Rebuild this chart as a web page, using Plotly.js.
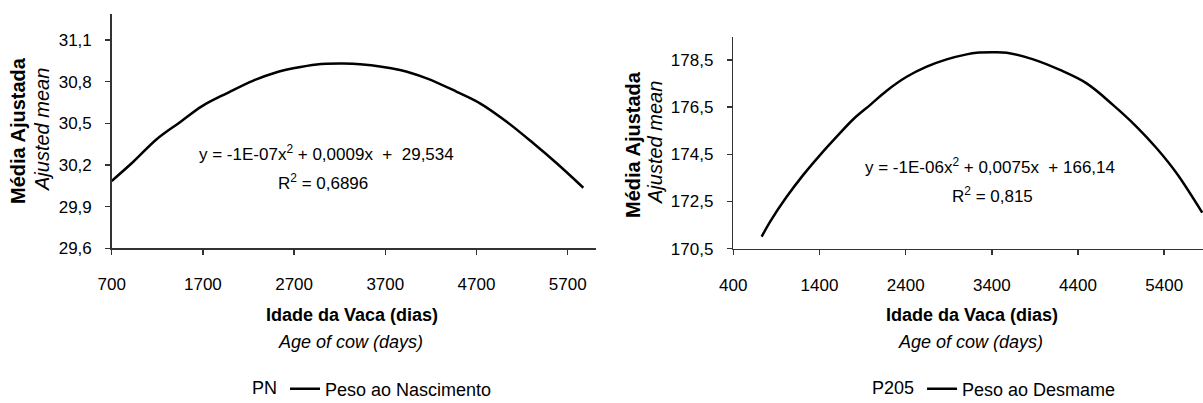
<!DOCTYPE html>
<html>
<head>
<meta charset="utf-8">
<script src="https://cdn.plot.ly/plotly-3.0.1.min.js"></script>
<style>
  html, body { margin: 0; padding: 0; background: #fff; }
  #chart { width: 1203px; height: 403px; }
</style>
</head>
<body>
<div id="chart"></div>
<script>
// ---- Data ----
// PN – Peso ao Nascimento (left panel)
const pnAge  = [700, 937, 1193, 1449, 1687, 1961, 2253, 2509, 2691, 2948, 3200, 3423, 3861, 4154, 4483, 4738, 5031, 5323, 5579, 5871];
const pnMean = [30.085, 30.223, 30.385, 30.508, 30.622, 30.716, 30.808, 30.868, 30.896, 30.924, 30.93, 30.926, 30.884, 30.824, 30.727, 30.644, 30.511, 30.356, 30.212, 30.036];

// P205 – Peso ao Desmame (right panel)
const p205Age  = [729, 826, 1019, 1212, 1406, 1600, 1792, 1986, 2180, 2412, 2644, 2876, 3108, 3224, 3400, 3572, 3880, 4190, 4500, 4808, 5080, 5312, 5544, 5841];
const p205Mean = [171.01, 171.64, 172.70, 173.63, 174.47, 175.25, 175.99, 176.59, 177.20, 177.79, 178.22, 178.53, 178.74, 178.81, 178.83, 178.81, 178.53, 178.08, 177.51, 176.59, 175.67, 174.76, 173.70, 172.03];

// Tick labels
const pnXTicks   = [700, 1700, 2700, 3700, 4700, 5700];
const pnYTicks   = [29.6, 29.9, 30.2, 30.5, 30.8, 31.1];
const pnYLabels  = ['29,6', '29,9', '30,2', '30,5', '30,8', '31,1'];
const p205XTicks  = [400, 1400, 2400, 3400, 4400, 5400];
const p205YTicks  = [170.5, 172.5, 174.5, 176.5, 178.5];
const p205YLabels = ['170,5', '172,5', '174,5', '176,5', '178,5'];

// Texts
const pnName   = 'Peso ao Nascimento';
const p205Name = 'Peso ao Desmame';
const pnEq     = 'y = -1E-07x<sup>2</sup> + 0,0009x  +  29,534';
const pnR2     = 'R<sup>2</sup> = 0,6896';
const p205Eq   = 'y = -1E-06x<sup>2</sup> + 0,0075x  + 166,14';
const p205R2   = 'R<sup>2</sup> = 0,815';

// ---- Layout helpers (pixel -> paper) ----
const W = 1203, H = 403;
const px = v => v / W;
const py = v => 1 - v / H;
const FONT = 'Liberation Sans, Arial, sans-serif';

const axisCommon = {
  showgrid: false, zeroline: false, showline: true,
  linecolor: '#333', linewidth: 1.5,
  ticks: 'outside', ticklen: 5, tickwidth: 1.5, tickcolor: '#333',
  tickfont: { family: FONT, size: 17, color: '#000' },
  tickmode: 'array', fixedrange: true
};

const traces = [
  { x: pnAge, y: pnMean, type: 'scatter', mode: 'lines', name: pnName,
    line: { color: '#000', width: 2.5, shape: 'spline' },
    xaxis: 'x', yaxis: 'y', legend: 'legend', showlegend: true },
  { x: p205Age, y: p205Mean, type: 'scatter', mode: 'lines', name: p205Name,
    line: { color: '#000', width: 2.5, shape: 'spline' },
    xaxis: 'x2', yaxis: 'y2', legend: 'legend2', showlegend: true }
];

function ann(text, x, y, opts) {
  return Object.assign({
    text: text, x: px(x), y: py(y), xref: 'paper', yref: 'paper',
    xanchor: 'center', yanchor: 'middle', showarrow: false,
    font: { family: FONT, size: 17, color: '#000' }
  }, opts || {});
}

const annotations = [
  // Left y titles
  ann('<b>Média Ajustada</b>', 18, 131, { textangle: -90, font: { family: FONT, size: 20, color: '#000' } }),
  ann('<i>Ajusted mean</i>', 42, 130, { textangle: -90, font: { family: FONT, size: 20, color: '#000' } }),
  // Right y titles
  ann('<b>Média Ajustada</b>', 633, 145, { textangle: -90, font: { family: FONT, size: 20, color: '#000' } }),
  ann('<i>Ajusted mean</i>', 655, 143, { textangle: -90, font: { family: FONT, size: 20, color: '#000' } }),
  // X titles
  ann('<b>Idade da Vaca (dias)</b>', 352, 315, { font: { family: FONT, size: 18, color: '#000' } }),
  ann('<i>Age of cow (days)</i>', 350, 342, { font: { family: FONT, size: 18, color: '#000' } }),
  ann('<b>Idade da Vaca (dias)</b>', 972, 315, { font: { family: FONT, size: 18, color: '#000' } }),
  ann('<i>Age of cow (days)</i>', 971, 342, { font: { family: FONT, size: 18, color: '#000' } }),
  // Equations
  ann(pnEq, 326, 153),
  ann(pnR2, 323, 182),
  ann(p205Eq, 990, 166),
  ann(p205R2, 992, 195)
];

const legendCommon = {
  orientation: 'h', xanchor: 'left', yanchor: 'middle',
  bgcolor: 'rgba(0,0,0,0)', borderwidth: 0,
  font: { family: FONT, size: 18, color: '#000' }
};

const layout = {
  width: W, height: H,
  margin: { l: 0, r: 0, t: 0, b: 0, pad: 0, autoexpand: false },
  paper_bgcolor: '#fff', plot_bgcolor: '#fff',
  font: { family: FONT, color: '#000' },
  xaxis: Object.assign({}, axisCommon, {
    domain: [px(111.7), px(596)], range: [700, 6010],
    tickvals: pnXTicks, ticktext: pnXTicks.map(String), anchor: 'y',
    ticklabelstandoff: 15
  }),
  yaxis: Object.assign({}, axisCommon, {
    domain: [py(248.3), py(14)], range: [29.6, 31.287],
    tickvals: pnYTicks, ticktext: pnYLabels, anchor: 'x',
    ticklabelstandoff: 10
  }),
  xaxis2: Object.assign({}, axisCommon, {
    domain: [px(733.3), 1], range: [400, 5850],
    tickvals: p205XTicks, ticktext: p205XTicks.map(String), anchor: 'y2',
    ticklabelstandoff: 15
  }),
  yaxis2: Object.assign({}, axisCommon, {
    domain: [py(248.7), py(36.7)], range: [170.5, 179.49],
    tickvals: p205YTicks, ticktext: p205YLabels, anchor: 'x2',
    ticklabelstandoff: 10
  }),
  legend: Object.assign({}, legendCommon, {
    x: px(250), y: py(389),
    title: { text: 'PN', side: 'left', font: { family: FONT, size: 18, color: '#000' } }
  }),
  legend2: Object.assign({}, legendCommon, {
    x: px(870), y: py(389),
    title: { text: 'P205', side: 'left', font: { family: FONT, size: 18, color: '#000' } }
  }),
  annotations: annotations,
  showlegend: true
};

Plotly.newPlot('chart', traces, layout, { staticPlot: true, displayModeBar: false });
</script>
</body>
</html>
